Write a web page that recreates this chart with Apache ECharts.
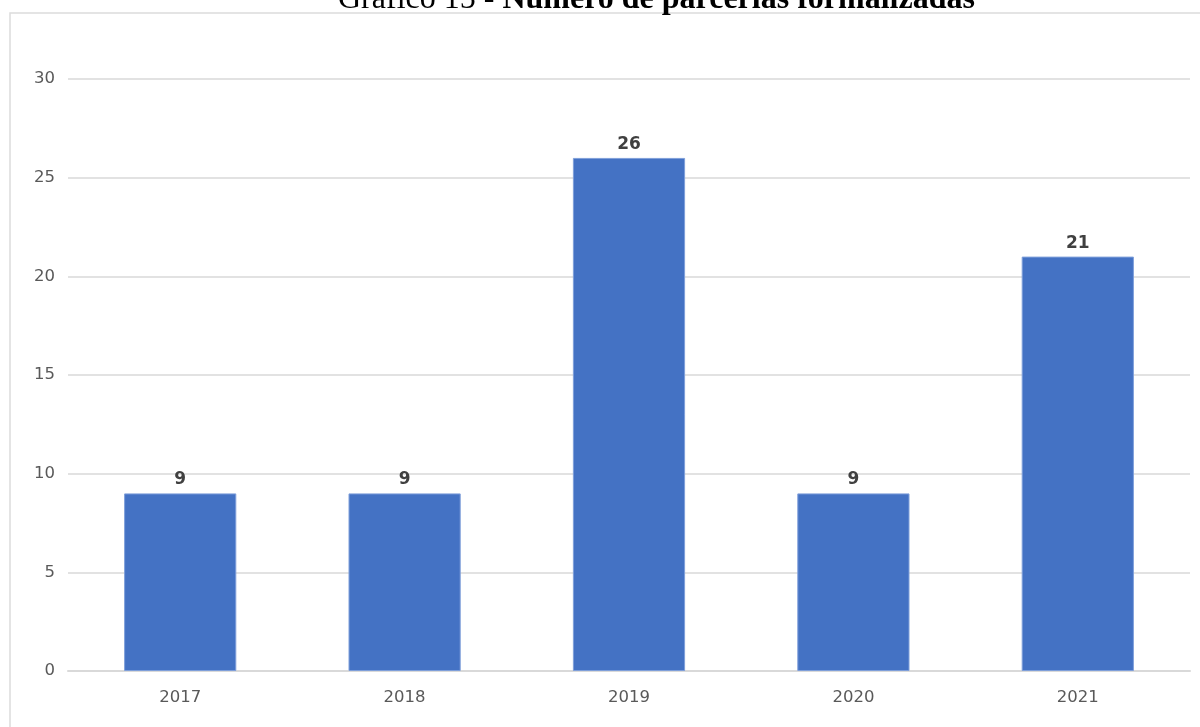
<!DOCTYPE html>
<html>
<head>
<meta charset="utf-8">
<script src="https://cdn.jsdelivr.net/npm/echarts@6/dist/echarts.min.js"></script>
<style>
  html, body { margin: 0; padding: 0; background: #fff; }
  #chart { width: 1200px; height: 727px; }
</style>
</head>
<body>
<div id="chart"></div>
<script>
const years = ['2017', '2018', '2019', '2020', '2021'];
const parcerias = [9, 9, 26, 9, 21];
const yTicks = [0, 5, 10, 15, 20, 25, 30];

let myChart = echarts.init(document.getElementById('chart'));
let option = {
  backgroundColor: '#fff',
  animation: false,
  title: {
    text: '{n|Gráfico 15 - }{b|Número de parcerias formalizadas}',
    left: 333,
    top: -21,
    textStyle: {
      rich: {
        n: { fontFamily: 'Liberation Serif', fontSize: 32, fontWeight: 'normal', color: '#000' },
        b: { fontFamily: 'Liberation Serif', fontSize: 32, fontWeight: 'bold', color: '#000' }
      }
    }
  },
  graphic: [{
    type: 'rect',
    shape: { x: 10, y: 13, width: 1300, height: 900 },
    style: { fill: 'none', stroke: '#dcdcdc', lineWidth: 1.5 },
    silent: true,
    z: -1
  }],
  grid: { left: 68, right: 10, top: 79, bottom: 56, containLabel: false },
  xAxis: {
    type: 'category',
    data: years,
    axisLine: { show: true, lineStyle: { color: '#d9d9d9', width: 2 } },
    axisTick: { show: false },
    axisLabel: { color: '#595959', fontFamily: 'DejaVu Sans', fontSize: 16.5, margin: 18 }
  },
  yAxis: {
    type: 'value',
    min: yTicks[0],
    max: yTicks[yTicks.length - 1],
    interval: 5,
    axisLine: { show: false },
    axisTick: { show: false },
    axisLabel: { color: '#595959', fontFamily: 'DejaVu Sans', fontSize: 16.5, margin: 13 },
    splitLine: { lineStyle: { color: '#d9d9d9', width: 1.5 } }
  },
  series: [{
    type: 'bar',
    data: parcerias,
    barWidth: '50%',
    itemStyle: { color: '#4472C4', borderColor: '#7f9fda', borderWidth: 1 },
    label: {
      show: true,
      position: 'top',
      distance: 5,
      color: '#404040',
      fontFamily: 'DejaVu Sans',
      fontWeight: 'bold',
      fontSize: 17
    }
  }]
};
option && myChart.setOption(option);
</script>
</body>
</html>
